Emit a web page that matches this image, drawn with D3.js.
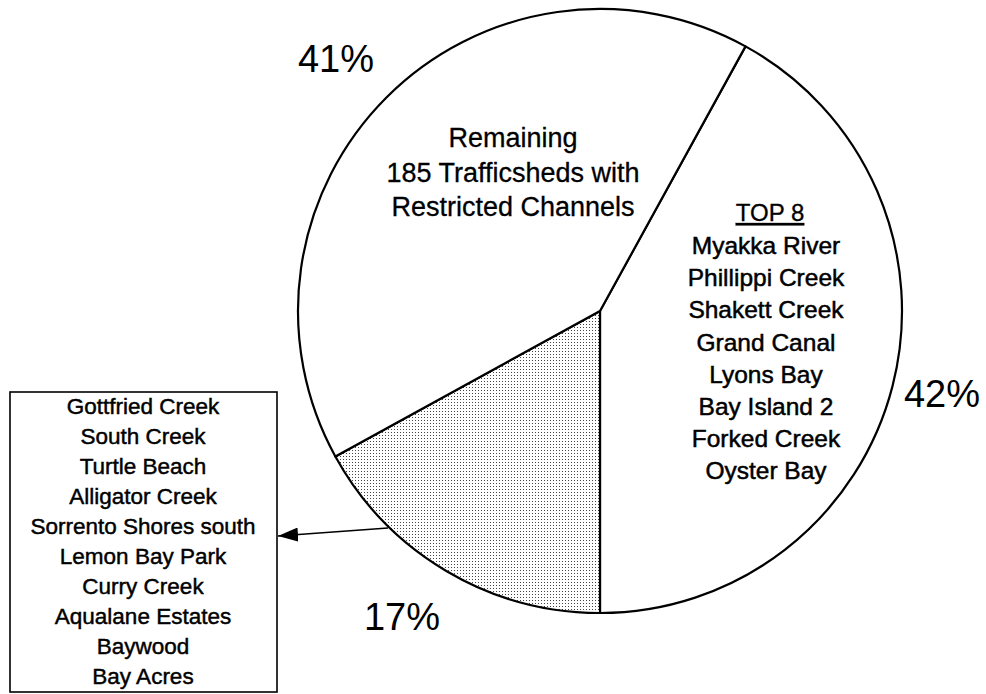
<!DOCTYPE html>
<html><head><meta charset="utf-8">
<script src="https://cdn.jsdelivr.net/npm/d3@7/dist/d3.min.js"></script>
<style>body{margin:0;background:#fff}svg{display:block}text{font-family:"Liberation Sans",Arial,sans-serif;fill:#000}</style>
</head><body>
<script>
const categories = ["Top 8", "Next 10", "Remaining 185"];
const values = [42, 17, 41];
const percentLabels = ["42%", "17%", "41%"];
const remainingLines = ["Remaining", "185 Trafficsheds with", "Restricted Channels"];
const top8Title = "TOP 8";
const top8Lines = ["Myakka River", "Phillippi Creek", "Shakett Creek", "Grand Canal", "Lyons Bay", "Bay Island 2", "Forked Creek", "Oyster Bay"];
const next10Lines = ["Gottfried Creek", "South Creek", "Turtle Beach", "Alligator Creek", "Sorrento Shores south", "Lemon Bay Park", "Curry Creek", "Aqualane Estates", "Baywood", "Bay Acres"];

const W = 986, H = 694;
const cx = 600, cy = 311, R = 302;
const svg = d3.select("body").append("svg").attr("width", W).attr("height", H);

const defs = svg.append("defs");
const pat = defs.append("pattern").attr("id", "dots").attr("patternUnits", "userSpaceOnUse")
  .attr("width", 3).attr("height", 3);
pat.append("rect").attr("width", 3).attr("height", 3).attr("fill", "#fff");
pat.append("rect").attr("x", 1).attr("y", 1).attr("width", 1).attr("height", 1).attr("fill", "#444");

const total = d3.sum(values);
const startA = Math.PI - values[0] / total * 2 * Math.PI;
const pie = d3.pie().sort(null).startAngle(startA).endAngle(startA + 2 * Math.PI);
const arcs = pie(values);
const arc = d3.arc().innerRadius(0).outerRadius(R);
const fills = ["#fff", "url(#dots)", "#fff"];

const g = svg.append("g").attr("transform", `translate(${cx},${cy})`);
g.selectAll("path").data(arcs).join("path")
  .attr("d", arc).attr("fill", (d, i) => fills[i])
  .attr("stroke", "#000").attr("stroke-width", 2.2).attr("stroke-linejoin", "round");

// percent labels
const pctPos = [[942, 407], [402, 630], [336, 72]];
svg.selectAll("text.pct").data(percentLabels).join("text").attr("class", "pct")
  .attr("x", (d, i) => pctPos[i][0]).attr("y", (d, i) => pctPos[i][1])
  .attr("text-anchor", "middle").attr("font-size", 38).text(d => d);

// remaining label
svg.selectAll("text.rem").data(remainingLines).join("text").attr("class", "rem")
  .attr("x", 513).attr("y", (d, i) => 147 + i * 34.5)
  .attr("text-anchor", "middle").attr("font-size", 27)
  .attr("stroke", "#000").attr("stroke-width", 0.3).text(d => d);

// top 8 label
svg.append("text").attr("x", 770).attr("y", 221).attr("text-anchor", "middle")
  .attr("font-size", 24).attr("stroke", "#000").attr("stroke-width", 0.3)
  .attr("text-decoration", "underline").text(top8Title);
svg.selectAll("text.top").data(top8Lines).join("text").attr("class", "top")
  .attr("x", 766).attr("y", (d, i) => 254 + i * 32.2)
  .attr("text-anchor", "middle").attr("font-size", 24.5)
  .attr("stroke", "#000").attr("stroke-width", 0.5).text(d => d);

// box
const bx = 10, by = 392, bw = 267, bh = 300;
svg.append("rect").attr("x", bx).attr("y", by).attr("width", bw).attr("height", bh)
  .attr("fill", "#fff").attr("stroke", "#000").attr("stroke-width", 1.6);
svg.selectAll("text.nx").data(next10Lines).join("text").attr("class", "nx")
  .attr("x", 143).attr("y", (d, i) => 414 + i * 30)
  .attr("text-anchor", "middle").attr("font-size", 22.5)
  .attr("stroke", "#000").attr("stroke-width", 0.45).text(d => d);

// arrow
defs.append("marker").attr("id", "arr").attr("viewBox", "0 0 20 14").attr("refX", 20).attr("refY", 7)
  .attr("markerWidth", 20).attr("markerHeight", 14).attr("markerUnits", "userSpaceOnUse").attr("orient", "auto")
  .append("path").attr("d", "M0,0L20,7L0,14Z").attr("fill", "#000");
svg.append("line").attr("x1", 388).attr("y1", 528).attr("x2", 278).attr("y2", 536)
  .attr("stroke", "#000").attr("stroke-width", 1.6).attr("marker-end", "url(#arr)");
</script>
</body></html>
